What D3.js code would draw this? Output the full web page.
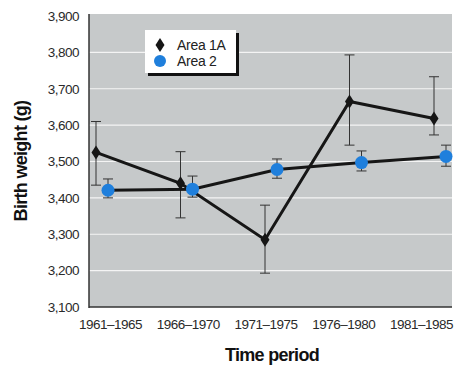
<!DOCTYPE html>
<html>
<head>
<meta charset="utf-8">
<script src="https://cdn.jsdelivr.net/npm/d3@7"></script>
<style>
  body { margin: 0; background: #fff; }
  svg { display: block; }
  .tick text { font-family: "Liberation Sans", Arial, sans-serif; font-size: 13.5px; letter-spacing: -0.5px; fill: #2a2a2a; }
  .title { font-family: "Liberation Sans", Arial, sans-serif; font-weight: bold; font-size: 18px; letter-spacing: -0.7px; fill: #111; }
</style>
</head>
<body>
<div id="chart"></div>
<script>
const periods = ['1961–1965', '1966–1970', '1971–1975', '1976–1980', '1981–1985'];
const area1A = [3525, 3440, 3285, 3665, 3618];
const area1ALow = [3435, 3345, 3193, 3545, 3573];
const area1AHigh = [3610, 3527, 3380, 3793, 3733];
const area2 = [3421, 3424, 3478, 3497, 3514];
const area2Low = [3400, 3402, 3454, 3474, 3487];
const area2High = [3452, 3460, 3507, 3529, 3545];
const yTicks = [3100, 3200, 3300, 3400, 3500, 3600, 3700, 3800, 3900];
const seriesNames = ['Area 1A', 'Area 2'];

const width = 455, height = 366;
const plot = {left: 89, right: 452, top: 14, bottom: 307};

const svg = d3.select('#chart').append('svg')
  .attr('width', width)
  .attr('height', height);

let x = d3.scalePoint().domain(periods).range([102, 440]);
let xLabels = d3.scalePoint().domain(periods).range([110, 421]);
let y = d3.scaleLinear().domain([3100, 3900]).range([plot.bottom, 16]);

// plot background
svg.append('rect')
  .attr('x', plot.left).attr('y', plot.top)
  .attr('width', plot.right - plot.left).attr('height', plot.bottom - plot.top)
  .attr('fill', '#c6c9ca');

// gridlines
svg.append('g')
  .selectAll('line')
  .data(yTicks.filter(d => d > 3100 && d < 3900))
  .enter().append('line')
  .attr('x1', plot.left).attr('x2', plot.right)
  .attr('y1', d => y(d)).attr('y2', d => y(d))
  .attr('stroke', '#f4f4f4').attr('stroke-width', 1.2);

// y axis
let yAxis = svg.append('g')
  .attr('transform', `translate(${plot.left},0)`)
  .call(d3.axisLeft(y).tickValues(yTicks).tickSize(0).tickPadding(10).tickFormat(d3.format(',')));
yAxis.select('.domain').remove();
svg.append('line')
  .attr('x1', plot.left).attr('x2', plot.left)
  .attr('y1', plot.top).attr('y2', plot.bottom + 1)
  .attr('stroke', '#333').attr('stroke-width', 1.5);

// x axis
let xAxis = svg.append('g')
  .attr('transform', `translate(0,${plot.bottom})`)
  .call(d3.axisBottom(xLabels).tickSize(0).tickPadding(12));
xAxis.select('.domain').remove();
svg.append('line')
  .attr('x1', plot.left).attr('x2', plot.right)
  .attr('y1', plot.bottom).attr('y2', plot.bottom)
  .attr('stroke', '#333').attr('stroke-width', 1.5);

// axis titles
svg.append('text')
  .attr('class', 'title')
  .attr('x', 272).attr('y', 361)
  .attr('text-anchor', 'middle')
  .text('Time period');

svg.append('text')
  .attr('class', 'title')
  .attr('transform', 'translate(27,161) rotate(-90)')
  .attr('text-anchor', 'middle')
  .text('Birth weight (g)');

const dxA = -6, dxB = 6;
let line = d3.line().x(d => d[0]).y(d => d[1]);

let ptsA = periods.map((p, i) => [x(p) + dxA, y(area1A[i])]);
let ptsB = periods.map((p, i) => [x(p) + dxB, y(area2[i])]);

// error bars
function errorBars(dx, lows, highs) {
  let g = svg.append('g').attr('stroke', '#333').attr('stroke-width', 1);
  periods.forEach((p, i) => {
    let cx = x(p) + dx;
    g.append('line').attr('x1', cx).attr('x2', cx).attr('y1', y(lows[i])).attr('y2', y(highs[i]));
    g.append('line').attr('x1', cx - 5).attr('x2', cx + 5).attr('y1', y(lows[i])).attr('y2', y(lows[i]));
    g.append('line').attr('x1', cx - 5).attr('x2', cx + 5).attr('y1', y(highs[i])).attr('y2', y(highs[i]));
  });
}
errorBars(dxA, area1ALow, area1AHigh);
errorBars(dxB, area2Low, area2High);

// lines
svg.append('path').attr('d', line(ptsB))
  .attr('fill', 'none').attr('stroke', '#161616').attr('stroke-width', 3);
svg.append('path').attr('d', line(ptsA))
  .attr('fill', 'none').attr('stroke', '#161616').attr('stroke-width', 3);

// markers
const diamond = 'M0,-7L4.5,0L0,7L-4.5,0Z';
svg.append('g').selectAll('path')
  .data(ptsA)
  .enter().append('path')
  .attr('d', diamond)
  .attr('transform', d => `translate(${d[0]},${d[1]})`)
  .attr('fill', '#161616');

svg.append('g').selectAll('circle')
  .data(ptsB)
  .enter().append('circle')
  .attr('cx', d => d[0]).attr('cy', d => d[1])
  .attr('r', 6.5)
  .attr('fill', '#1f7fdc');

// legend
let legend = svg.append('g').attr('transform', 'translate(145,30)');
legend.append('rect')
  .attr('x', 3).attr('y', 3).attr('width', 91).attr('height', 43)
  .attr('fill', '#111');
legend.append('rect')
  .attr('x', 0).attr('y', 0).attr('width', 91).attr('height', 43)
  .attr('fill', '#fff');
legend.append('path')
  .attr('d', diamond)
  .attr('transform', 'translate(15,15)')
  .attr('fill', '#161616');
legend.append('circle')
  .attr('cx', 15).attr('cy', 31).attr('r', 6)
  .attr('fill', '#1f7fdc');
legend.selectAll('text.lbl')
  .data(seriesNames)
  .enter().append('text')
  .attr('class', 'lbl')
  .attr('x', 32)
  .attr('y', (d, i) => 20 + i * 16)
  .style('font-family', '"Liberation Sans", Arial, sans-serif')
  .style('font-size', '14px')
  .style('letter-spacing', '-0.3px')
  .attr('fill', '#222')
  .text(d => d);
</script>
</body>
</html>
